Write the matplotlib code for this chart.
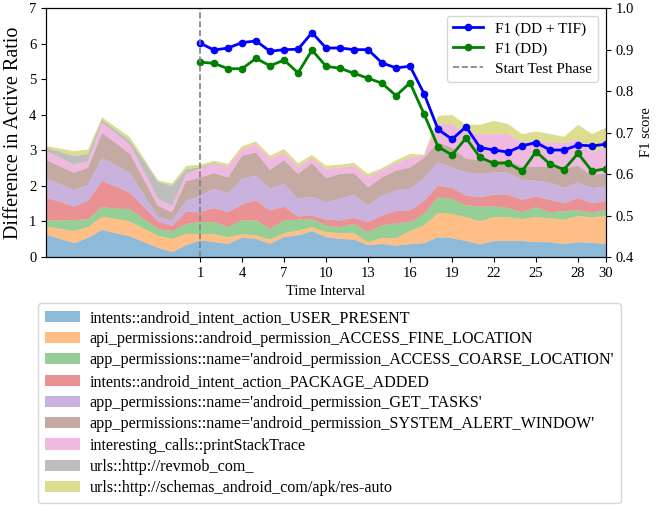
import numpy as np
import matplotlib
matplotlib.use("Agg")
import matplotlib.pyplot as plt

plt.rcParams['font.family'] = ['Liberation Serif', 'DejaVu Serif']

# time intervals -10 .. 30
intervals = list(range(-10, 31))
test_intervals = list(range(1, 31))

labels = [
    "intents::android_intent_action_USER_PRESENT",
    "api_permissions::android_permission_ACCESS_FINE_LOCATION",
    "app_permissions::name='android_permission_ACCESS_COARSE_LOCATION'",
    "intents::android_intent_action_PACKAGE_ADDED",
    "app_permissions::name='android_permission_GET_TASKS'",
    "app_permissions::name='android_permission_SYSTEM_ALERT_WINDOW'",
    "interesting_calls::printStackTrace",
    "urls::http://revmob_com_",
    "urls::http://schemas_android_com/apk/res-auto",
]

user_present = [.63, .51, .39, .54, .76, .67, .58, .42, .26, .14, .33,
                .47, .42, .37, .54, .51, .37, .56, .61, .73, .56,
                .51, .49, .33, .37, .32, .36, .39, .56, .53, .45,
                .36, .45, .45, .45, .42, .42, .36, .42, .40, .37]
fine_location = [.23, .29, .34, .30, .37, .40, .42, .38, .34, .37, .32,
                 .18, .22, .19, .10, .10, .12, .11, .14, .11, .14,
                 .16, .18, .09, .17, .21, .37, .50, .68, .68, .67,
                 .65, .67, .67, .62, .70, .67, .69, .73, .72, .78]
coarse_location = [.16, .23, .31, .22, .27, .30, .34, .27, .19, .22, .28,
                   .33, .34, .28, .39, .42, .30, .36, .30, .23, .19,
                   .17, .26, .28, .35, .42, .25, .32, .44, .43, .33,
                   .41, .30, .26, .19, .28, .17, .24, .16, .13, .18]
package_added = [.65, .52, .38, .52, .74, .61, .47, .34, .21, .15, .34,
                 .28, .40, .42, .45, .56, .52, .39, .09, .10, .16,
                 .19, .17, .28, .28, .35, .33, .36, .33, .30, .28,
                 .26, .33, .37, .35, .30, .35, .22, .35, .26, .24]
get_tasks = [.54, .50, .46, .45, .65, .60, .56, .34, .13, .14, .31,
             .46, .54, .53, .72, .70, .61, .64, .50, .53, .49,
             .61, .66, .47, .56, .58, .61, .65, .65, .58, .65,
             .66, .63, .63, .56, .45, .49, .43, .44, .43, .41]
alert_window = [.52, .50, .49, .48, .70, .62, .53, .42, .31, .24, .56,
                .51, .44, .45, .65, .65, .53, .67, .70, .94, .68,
                .70, .60, .51, .51, .55, .60, .57, .56, .56, .38,
                .39, .33, .33, .37, .39, .44, .54, .47, .35, .38]
print_stack = [.25, .24, .23, .19, .28, .27, .26, .23, .19, .18, .19,
               .26, .26, .28, .19, .24, .31, .21, .20, .15, .26,
               .18, .21, .28, .21, .21, .28, .06, .52, .66, .74,
               .73, .75, .75, .68, .75, .68, .74, .75, .65, .72]
revmob = [.09, .17, .24, .20, .09, .10, .11, .30, .49, .56, .14,
          .04, .03, .02, 0, 0, 0, 0, 0, 0, 0,
          0, 0, 0, 0, 0, 0, 0, 0, 0, 0,
          0, 0, 0, 0, 0, 0, 0, 0, 0, 0]
res_auto = [.05, .09, .14, .12, .07, .08, .10, .07, .04, .07, .09,
            .07, .06, .08, .08, .07, .09, .10, .10, .08, .09,
            .08, .08, .10, .05, .08, .10, .03, .23, .26, .22,
            .26, .37, .28, .24, .24, .24, .16, .40, .52, .56]

f1_dd_tif = [.916, .899, .904, .917, .921, .896, .900, .901, .941, .904,
             .904, .900, .900, .868, .856, .860, .794, .708, .684, .714,
             .664, .658, .653, .668, .676, .658, .658, .670, .668, .672]
f1_dd = [.870, .867, .854, .854, .879, .861, .875, .844, .899, .860,
         .855, .843, .831, .819, .789, .820, .745, .666, .646, .687,
         .640, .626, .627, .607, .654, .624, .611, .650, .607, .613]

fig = plt.figure(figsize=(6.67, 5.11), dpi=100)
ax = fig.add_axes([0.069, 0.497, 0.8396, 0.487])

polys = ax.stackplot(intervals, user_present, fine_location, coarse_location,
                     package_added, get_tasks, alert_window, print_stack,
                     revmob, res_auto, labels=labels, alpha=0.5)
ax.set_xlim(-10, 30)
ax.set_ylim(0, 7)
ax.set_xticks([1, 4, 7, 10, 13, 16, 19, 22, 25, 28, 30])
ax.tick_params(labelsize=10.5)
ax.set_xlabel("Time Interval", fontsize=10.5)
ax.set_ylabel("Difference in Active Ratio", fontsize=14.5)

ax2 = ax.twinx()
ax2.plot(test_intervals, f1_dd_tif, color='blue', marker='o', markersize=4.5,
         linewidth=2, label="F1 (DD + TIF)")
ax2.plot(test_intervals, f1_dd, color='green', marker='o', markersize=4.5,
         linewidth=2, label="F1 (DD)")
ax2.axvline(1, color='gray', linestyle='--', linewidth=1.2, label="Start Test Phase")
ax2.set_ylim(0.4, 1.0)
ax2.tick_params(labelsize=10.5)
ax2.set_ylabel("F1 score", fontsize=10.5)
ax2.legend(loc='upper right', fontsize=11, labelspacing=0.4)

fig.legend(polys, labels, loc='upper left', bbox_to_anchor=(0.045, 0.422),
           fontsize=11.6, labelspacing=0.33, handlelength=2.2, handletextpad=0.6)

fig.savefig("out.png", dpi=100)
